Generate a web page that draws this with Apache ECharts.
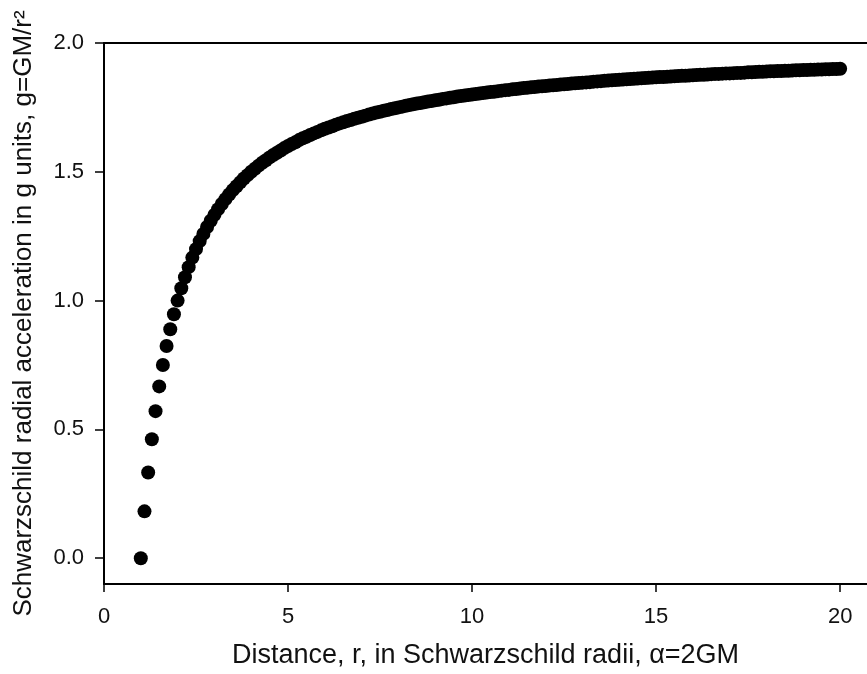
<!DOCTYPE html>
<html>
<head>
<meta charset="utf-8">
<script src="https://cdn.jsdelivr.net/npm/echarts@6/dist/echarts.min.js"></script>
<style>
html,body{margin:0;padding:0;background:#fff;}
#chart{width:867px;height:674px;}
</style>
</head>
<body>
<div id="chart"></div>
<script>
const rValues = [
1.0,1.1,1.2,1.3,1.4,1.5,1.6,1.7,1.8,1.9,
2.0,2.1,2.2,2.3,2.4,2.5,2.6,2.7,2.8,2.9,
3.0,3.1,3.2,3.3,3.4,3.5,3.6,3.7,3.8,3.9,
4.0,4.1,4.2,4.3,4.4,4.5,4.6,4.7,4.8,4.9,
5.0,5.1,5.2,5.3,5.4,5.5,5.6,5.7,5.8,5.9,
6.0,6.1,6.2,6.3,6.4,6.5,6.6,6.7,6.8,6.9,
7.0,7.1,7.2,7.3,7.4,7.5,7.6,7.7,7.8,7.9,
8.0,8.1,8.2,8.3,8.4,8.5,8.6,8.7,8.8,8.9,
9.0,9.1,9.2,9.3,9.4,9.5,9.6,9.7,9.8,9.9,
10.0,10.1,10.2,10.3,10.4,10.5,10.6,10.7,10.8,10.9,
11.0,11.1,11.2,11.3,11.4,11.5,11.6,11.7,11.8,11.9,
12.0,12.1,12.2,12.3,12.4,12.5,12.6,12.7,12.8,12.9,
13.0,13.1,13.2,13.3,13.4,13.5,13.6,13.7,13.8,13.9,
14.0,14.1,14.2,14.3,14.4,14.5,14.6,14.7,14.8,14.9,
15.0,15.1,15.2,15.3,15.4,15.5,15.6,15.7,15.8,15.9,
16.0,16.1,16.2,16.3,16.4,16.5,16.6,16.7,16.8,16.9,
17.0,17.1,17.2,17.3,17.4,17.5,17.6,17.7,17.8,17.9,
18.0,18.1,18.2,18.3,18.4,18.5,18.6,18.7,18.8,18.9,
19.0,19.1,19.2,19.3,19.4,19.5,19.6,19.7,19.8,19.9,
20.0
];
const gValues = [
0.000,0.182,0.333,0.462,0.571,0.667,0.750,0.824,0.889,0.947,
1.000,1.048,1.091,1.130,1.167,1.200,1.231,1.259,1.286,1.310,
1.333,1.355,1.375,1.394,1.412,1.429,1.444,1.459,1.474,1.487,
1.500,1.512,1.524,1.535,1.545,1.556,1.565,1.574,1.583,1.592,
1.600,1.608,1.615,1.623,1.630,1.636,1.643,1.649,1.655,1.661,
1.667,1.672,1.677,1.683,1.688,1.692,1.697,1.701,1.706,1.710,
1.714,1.718,1.722,1.726,1.730,1.733,1.737,1.740,1.744,1.747,
1.750,1.753,1.756,1.759,1.762,1.765,1.767,1.770,1.773,1.775,
1.778,1.780,1.783,1.785,1.787,1.789,1.792,1.794,1.796,1.798,
1.800,1.802,1.804,1.806,1.808,1.810,1.811,1.813,1.815,1.817,
1.818,1.820,1.821,1.823,1.825,1.826,1.828,1.829,1.831,1.832,
1.833,1.835,1.836,1.837,1.839,1.840,1.841,1.843,1.844,1.845,
1.846,1.847,1.848,1.850,1.851,1.852,1.853,1.854,1.855,1.856,
1.857,1.858,1.859,1.860,1.861,1.862,1.863,1.864,1.865,1.866,
1.867,1.868,1.868,1.869,1.870,1.871,1.872,1.873,1.873,1.874,
1.875,1.876,1.877,1.877,1.878,1.879,1.880,1.880,1.881,1.882,
1.882,1.883,1.884,1.884,1.885,1.886,1.886,1.887,1.888,1.888,
1.889,1.890,1.890,1.891,1.891,1.892,1.892,1.893,1.894,1.894,
1.895,1.895,1.896,1.896,1.897,1.897,1.898,1.898,1.899,1.899,
1.900
];
const xTicks = [0, 5, 10, 15, 20];
const yTicks = [0, 0.5, 1.0, 1.5, 2.0];
const xTitle = 'Distance, r, in Schwarzschild radii, \u03b1=2GM';
const yTitle = 'Schwarzschild radial acceleration in g units, g=GM/r\u00b2';

const points = rValues.map((r, i) => [r, gValues[i]]);
const FONT = '"Liberation Sans", Arial, sans-serif';
const chart = echarts.init(document.getElementById('chart'), null, {renderer: 'canvas'});
chart.setOption({
  animation: false,
  backgroundColor: '#ffffff',
  grid: {left: 104, top: 43, right: 0, bottom: 89, show: false},
  xAxis: [{
    type: 'value', min: 0, max: 20.73, position: 'bottom',
    name: xTitle, nameLocation: 'middle', nameGap: 58,
    nameTextStyle: {fontFamily: FONT, fontSize: 27, color: '#111'},
    axisLine: {show: true, onZero: false, lineStyle: {color: '#000', width: 2}},
    axisTick: {show: true, inside: false, length: 8, lineStyle: {color: '#000', width: 1.5}, customValues: xTicks},
    axisLabel: {show: true, margin: 22, fontFamily: FONT, fontSize: 22, color: '#111', customValues: xTicks},
    splitLine: {show: false}
  }, {
    type: 'value', min: 0, max: 20.73, position: 'top',
    axisLine: {show: true, onZero: false, lineStyle: {color: '#000', width: 2}},
    axisTick: {show: false}, axisLabel: {show: false}, splitLine: {show: false}
  }],
  yAxis: {
    type: 'value', min: -0.1, max: 2.0,
    name: yTitle, nameLocation: 'middle', nameGap: 67, nameRotate: 90,
    nameTextStyle: {fontFamily: FONT, fontSize: 26, color: '#111'},
    axisLine: {show: true, onZero: false, lineStyle: {color: '#000', width: 2}},
    axisTick: {show: true, inside: false, length: 9, lineStyle: {color: '#000', width: 1.5}, customValues: yTicks},
    axisLabel: {show: true, margin: 20, fontFamily: FONT, fontSize: 22, color: '#111', customValues: yTicks,
      formatter: v => v.toFixed(1)},
    splitLine: {show: false}
  },
  series: [{
    type: 'scatter',
    xAxisIndex: 0,
    data: points,
    symbol: 'circle',
    symbolSize: 14,
    itemStyle: {color: '#000', opacity: 1},
    clip: false
  }]
});
</script>
</body>
</html>
